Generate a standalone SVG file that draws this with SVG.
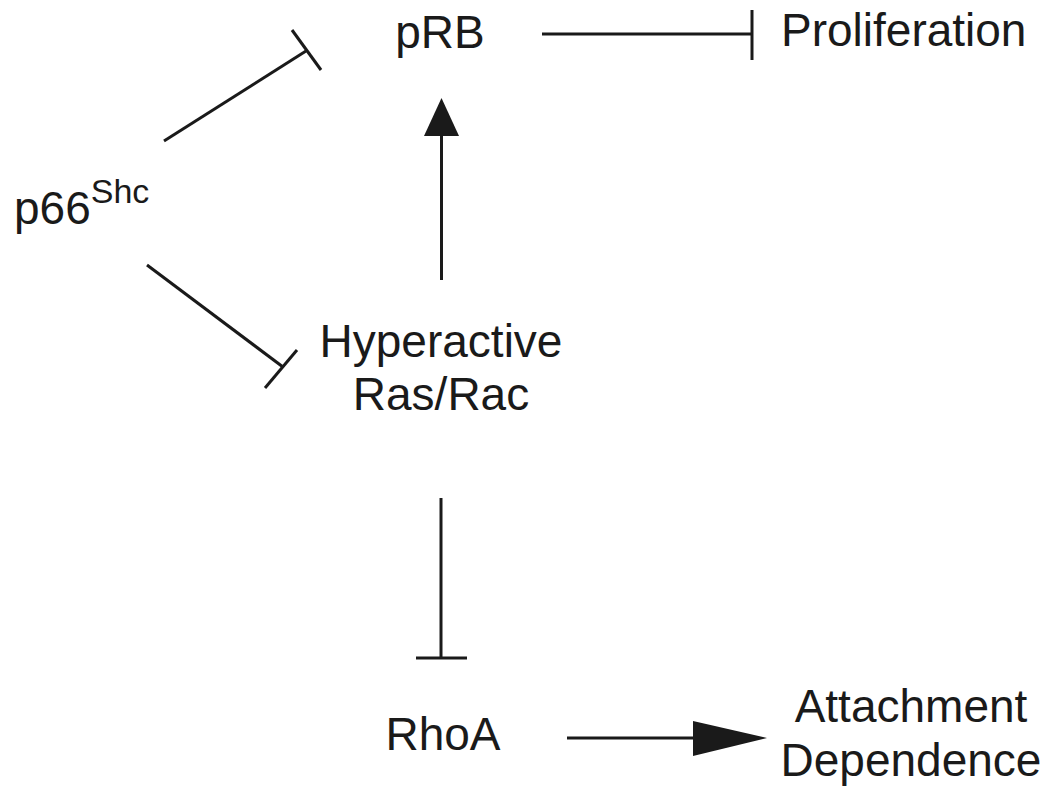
<svg xmlns="http://www.w3.org/2000/svg" width="1050" height="796" viewBox="0 0 1050 796">
<style>
text{font-family:"Liberation Sans",Arial,sans-serif;font-size:46px;fill:#1a1a1a}
.l{stroke:#1a1a1a;stroke-width:3;fill:none}
.h{fill:#1a1a1a;stroke:none}
</style>
<rect width="1050" height="796" fill="#fff"/>
<g id="node-prb"><text x="440" y="48" text-anchor="middle">pRB</text></g>
<g id="node-proliferation"><text x="781" y="46">Proliferation</text></g>
<g id="node-p66shc"><text x="14" y="224">p66<tspan font-size="34" dy="-21">Shc</tspan></text></g>
<g id="node-ras"><text x="441" y="357" text-anchor="middle">Hyperactive</text><text x="441" y="410" text-anchor="middle">Ras/Rac</text></g>
<g id="node-rhoa"><text x="443" y="750" text-anchor="middle">RhoA</text></g>
<g id="node-attach"><text x="911" y="722" text-anchor="middle">Attachment</text><text x="911" y="776" text-anchor="middle">Dependence</text></g>
<g id="connectors">
<line class="l" x1="164" y1="141" x2="306" y2="51"/>
<line class="l" x1="292" y1="30" x2="321" y2="70"/>
<line class="l" x1="147" y1="265" x2="283" y2="367"/>
<line class="l" x1="297" y1="350" x2="265" y2="388"/>
<line class="l" x1="542" y1="34" x2="752" y2="34"/>
<line class="l" x1="752" y1="10" x2="752" y2="60"/>
<line class="l" x1="441.5" y1="280" x2="441.5" y2="130"/>
<polygon class="h" points="441.5,98 459,136 424,136"/>
<line class="l" x1="441" y1="498" x2="441" y2="658"/>
<line class="l" x1="416" y1="658" x2="467" y2="658"/>
<line class="l" x1="567" y1="738" x2="700" y2="738"/>
<polygon class="h" points="767,738 693,721 693,756"/>
</g>
</svg>
